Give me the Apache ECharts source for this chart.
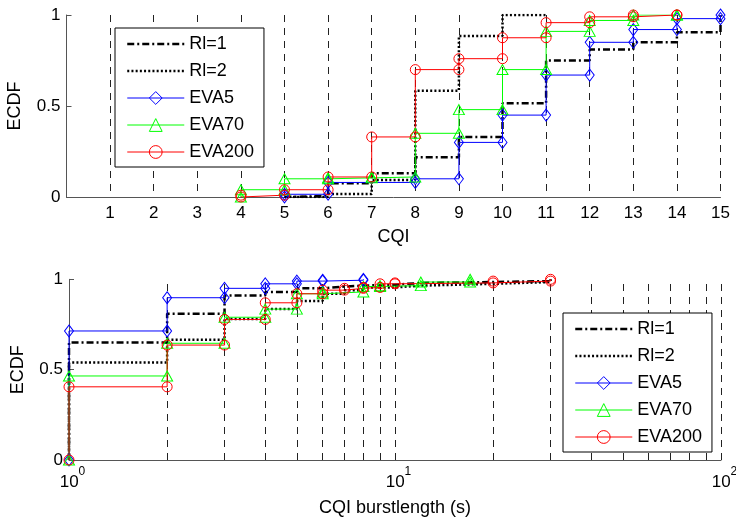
<!DOCTYPE html>
<html><head><meta charset="utf-8">
<script src="https://cdn.jsdelivr.net/npm/echarts@6/dist/echarts.min.js"></script>
<style>html,body{margin:0;padding:0;background:#fff}#c{width:736px;height:520px}</style>
</head><body><div id="c"></div>
<script>
// ---------- DATA ----------
const seriesNames = ['Rl=1', 'Rl=2', 'EVA5', 'EVA70', 'EVA200'];

// Top panel: ECDF of CQI (x = CQI where the ECDF jumps, y = ECDF level after the jump)
const cqiRl1X = [5, 6, 7, 8, 9, 10, 11, 12, 13, 14, 15];
const cqiRl1Y = [0.005, 0.075, 0.13, 0.218, 0.33, 0.515, 0.75, 0.81, 0.85, 0.905, 1.0];
const cqiRl2X = [5, 6, 7, 8, 9, 10, 11];
const cqiRl2Y = [0.0, 0.016, 0.093, 0.584, 0.885, 1.0, 1.0];
const cqiEva5X = [5, 6, 8, 9, 10, 11, 12, 13, 14, 15];
const cqiEva5Y = [0.015, 0.08, 0.10, 0.30, 0.45, 0.67, 0.85, 0.92, 0.98, 1.0];
const cqiEva70X = [4, 5, 6, 7, 8, 9, 10, 11, 12, 13, 14];
const cqiEva70Y = [0.04, 0.10, 0.105, 0.11, 0.35, 0.48, 0.70, 0.91, 0.97, 1.0, 1.0];
const cqiEva200X = [4, 5, 6, 7, 8, 9, 10, 11, 12, 13, 14];
const cqiEva200Y = [0.01, 0.04, 0.11, 0.33, 0.70, 0.76, 0.875, 0.958, 0.99, 1.0, 1.0];
const cqiTicks = [0, 15, 1];           // min, max, interval

// Bottom panel: ECDF of CQI burst length (s), log x axis
const burstRl1X = [1, 2, 3, 4, 5, 6, 7, 8, 10, 12, 20, 30];
const burstRl1Y = [0.65, 0.81, 0.91, 0.93, 0.95, 0.96, 0.965, 0.97, 0.98, 0.985, 0.99, 1.0];
const burstRl2X = [1, 2, 3, 4, 5, 6, 7, 8, 10, 12, 20, 30];
const burstRl2Y = [0.54, 0.665, 0.78, 0.835, 0.88, 0.92, 0.94, 0.955, 0.965, 0.975, 0.985, 1.0];
const burstEva5X = [1, 2, 3, 4, 5, 6, 8];
const burstEva5Y = [0.714, 0.898, 0.95, 0.975, 0.99, 0.995, 1.0];
const burstEva70X = [1, 2, 3, 4, 5, 6, 8, 9, 12, 17];
const burstEva70Y = [0.465, 0.646, 0.79, 0.835, 0.92, 0.93, 0.96, 0.965, 0.985, 1.0];
const burstEva200X = [1, 2, 3, 4, 5, 6, 7, 8, 9, 10, 20, 30];
const burstEva200Y = [0.405, 0.636, 0.778, 0.87, 0.92, 0.94, 0.95, 0.955, 0.975, 0.98, 0.99, 1.0];
const burstGridX = [2, 3, 4, 5, 6, 7, 8, 9, 10, 20, 30, 40, 50, 60, 70, 80, 90, 100];

const yTicks = [0, 1, 0.5];            // min, max, interval

// ---------- STYLES ----------
const FONT = 'Liberation Sans, Arial, Helvetica, sans-serif';
const styles = {
  'Rl=1':   {color: '#000000', width: 2.5, type: [7, 3, 2, 3], symbol: 'none'},
  'Rl=2':   {color: '#000000', width: 2.5, type: [2, 2.2], symbol: 'none'},
  'EVA5':   {color: '#0000ff', width: 1, type: 'solid', symbol: 'diamond', size: [9, 12]},
  'EVA70':  {color: '#00ff00', width: 1, type: 'solid', symbol: 'triangle', size: [11, 10]},
  'EVA200': {color: '#ff0000', width: 1, type: 'solid', symbol: 'circle', size: 10}
};

function stairs(xs, ys) {
  const pts = [];
  let prev = 0;
  xs.forEach((x, i) => { pts.push([x, prev]); pts.push([x, ys[i]]); prev = ys[i]; });
  return pts;
}

function mkSeries(name, xs, ys, gi) {
  const s = styles[name];
  return {
    type: 'line', name: name, xAxisIndex: gi, yAxisIndex: gi,
    data: stairs(xs, ys),
    symbol: s.symbol, symbolSize: s.size, showSymbol: s.symbol !== 'none',
    showAllSymbol: true,
    lineStyle: {color: s.color, width: s.width, type: s.type},
    itemStyle: {color: 'rgba(0,0,0,0)', borderColor: s.color, borderWidth: 1},
    emphasis: {disabled: true}, silent: true, animation: false, z: 3
  };
}

const topData = {
  'Rl=1': [cqiRl1X, cqiRl1Y], 'Rl=2': [cqiRl2X, cqiRl2Y], 'EVA5': [cqiEva5X, cqiEva5Y],
  'EVA70': [cqiEva70X, cqiEva70Y], 'EVA200': [cqiEva200X, cqiEva200Y]
};
const botData = {
  'Rl=1': [burstRl1X, burstRl1Y], 'Rl=2': [burstRl2X, burstRl2Y], 'EVA5': [burstEva5X, burstEva5Y],
  'EVA70': [burstEva70X, burstEva70Y], 'EVA200': [burstEva200X, burstEva200Y]
};

const series = [];
// dashed grid lines for the log axis (at every decade sub-tick)
series.push({
  type: 'line', name: '_grid', xAxisIndex: 1, yAxisIndex: 1, data: [[1, 0]],
  symbol: 'none', lineStyle: {width: 0}, silent: true, animation: false, z: 1,
  markLine: {
    z: 1, silent: true, animation: false, symbol: ['none', 'none'], label: {show: false},
    lineStyle: {color: '#222', width: 1, type: [7, 6]},
    emphasis: {disabled: true},
    data: burstGridX.map(v => ({xAxis: v}))
  }
});
seriesNames.forEach(n => series.push(mkSeries(n, topData[n][0], topData[n][1], 0)));
seriesNames.forEach(n => series.push(mkSeries(n, botData[n][0], botData[n][1], 1)));

function legendItems() {
  return seriesNames.map(n => {
    const s = styles[n];
    const isRl = s.symbol === 'none';
    return {
      name: n,
      itemStyle: isRl ? {color: 'rgba(0,0,0,0)', borderColor: 'rgba(0,0,0,0)', borderWidth: 0}
                      : {color: 'rgba(0,0,0,0)', borderColor: s.color, borderWidth: 1},
      lineStyle: {color: s.color, width: s.width, type: s.type}
    };
  });
}
const legendBase = {
  orient: 'vertical', itemWidth: 57, itemHeight: 16, itemGap: 9, z: 20,
  backgroundColor: '#fff', borderColor: '#000', borderWidth: 1,
  padding: [7, 10, 6, 11], selectedMode: false,
  textStyle: {fontFamily: FONT, fontSize: 18, color: '#000'}
};

const axisLine = {show: true, onZero: false, lineStyle: {color: '#555', width: 1}};
const axisLabel = {fontFamily: FONT, fontSize: 17, color: '#000'};
const nameStyle = {fontFamily: FONT, fontSize: 18, color: '#000'};

const option = {
  animation: false,
  backgroundColor: '#fff',
  grid: [
    {left: 66.5, top: 15, width: 654, height: 182, containLabel: false, outerBoundsMode: 'none'},
    {left: 69, top: 279.3, width: 652, height: 180.7, containLabel: false, outerBoundsMode: 'none'}
  ],
  xAxis: [
    {gridIndex: 0, type: 'value', min: cqiTicks[0], max: cqiTicks[1], interval: cqiTicks[2],
     name: 'CQI', nameLocation: 'middle', nameGap: 31, nameTextStyle: nameStyle,
     axisLine: axisLine, axisTick: {show: false},
     axisLabel: Object.assign({margin: 8, formatter: v => v === 0 ? '' : String(v)}, axisLabel),
     splitLine: {show: true, lineStyle: {color: '#222', width: 1, type: [7, 6]}}},
    {gridIndex: 1, type: 'log', logBase: 10, min: 1, max: 100,
     name: 'CQI burstlength (s)', nameLocation: 'middle', nameGap: 39, nameTextStyle: nameStyle,
     axisLine: axisLine, axisTick: {show: false}, splitLine: {show: false}, minorSplitLine: {show: false},
     axisLabel: {margin: 6, formatter: v => '{b|10}{s|' + Math.round(Math.log10(v)) + '}',
       rich: {
         b: {fontFamily: FONT, fontSize: 17, color: '#000', padding: [8, 0, 0, 7]},
         s: {fontFamily: FONT, fontSize: 12, color: '#000', verticalAlign: 'top'}
       }}}
  ],
  yAxis: [0, 1].map(gi => ({
    gridIndex: gi, type: 'value', min: yTicks[0], max: yTicks[1], interval: yTicks[2],
    name: 'ECDF', nameLocation: 'middle', nameGap: 42, nameRotate: 90, nameTextStyle: nameStyle,
    axisLine: axisLine,
    axisTick: {show: true, inside: true, length: 5, lineStyle: {color: '#555'}},
    axisLabel: Object.assign({margin: 6}, axisLabel),
    splitLine: {show: false}
  })),
  legend: [
    Object.assign({left: 115, top: 28, data: legendItems()}, legendBase),
    Object.assign({left: 563, top: 313, data: legendItems()}, legendBase)
  ],
  series: series
};

const chart = echarts.init(document.getElementById('c'), null, {renderer: 'canvas'});
chart.setOption(option);
</script></body></html>
